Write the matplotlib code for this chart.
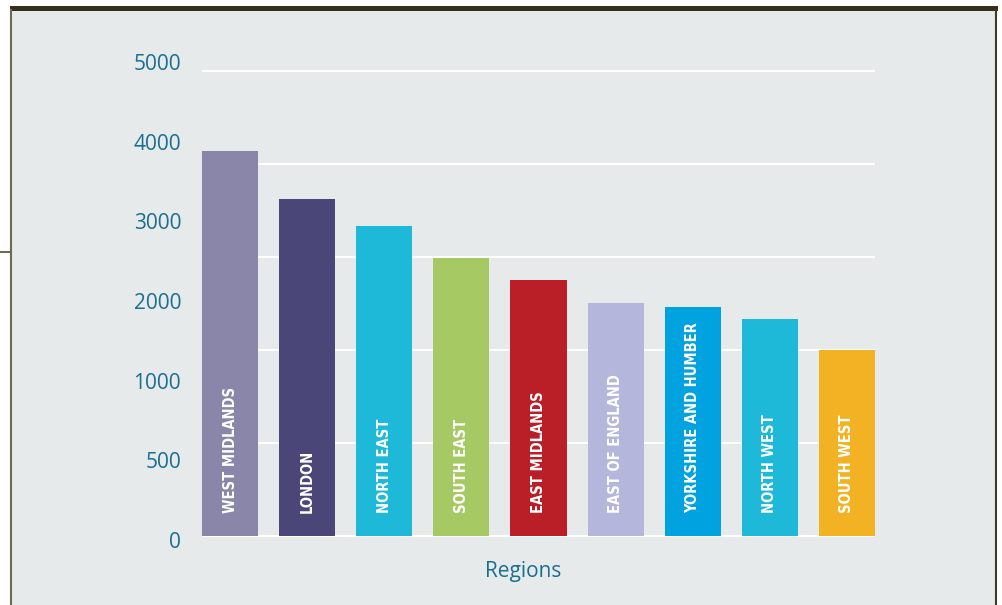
import numpy as np
import matplotlib.pyplot as plt
from matplotlib.patches import Rectangle
from matplotlib.lines import Line2D

# data
regions = ["WEST MIDLANDS", "LONDON", "NORTH EAST", "SOUTH EAST", "EAST MIDLANDS",
           "EAST OF ENGLAND", "YORKSHIRE AND HUMBER", "NORTH WEST", "SOUTH WEST"]
values = [4140, 3620, 3330, 2990, 2750, 2505, 2460, 2330, 2000]
bar_colors = ["#8A86AA", "#4A4778", "#1EB9D9", "#A6C963", "#BA1F28",
              "#B5B6DC", "#00A3DF", "#1EB9D9", "#F3B224"]
tick_labels = ["0", "500", "1000", "2000", "3000", "4000", "5000"]
grid_values = [0, 1000, 2000, 3000, 4000, 5000]

W, H = 1003, 605
fig = plt.figure(figsize=(W / 100, H / 100), dpi=100)
fig.patch.set_facecolor("white")

# panel background and frame
panel = "#E6EAEB"
fig.add_artist(Rectangle((11 / W, 0), (996 - 11) / W, (H - 10) / H,
                         transform=fig.transFigure, facecolor=panel, edgecolor="none", zorder=0))
fig.add_artist(Rectangle((10 / W, (H - 11) / H), (998 - 10) / W, 5 / H,
                         transform=fig.transFigure, facecolor="#352F1C", edgecolor="none", zorder=1))
fig.add_artist(Line2D([11 / W, 11 / W], [0, (H - 10) / H], transform=fig.transFigure,
                      color="#6B6A55", lw=1.5, zorder=1))
fig.add_artist(Line2D([996 / W, 996 / W], [0, (H - 10) / H], transform=fig.transFigure,
                      color="#3D3A28", lw=1.5, zorder=1))
fig.add_artist(Line2D([0, 11 / W], [(H - 252) / H] * 2, transform=fig.transFigure,
                      color="#6B6A55", lw=1.5, zorder=1))

# axes: 0 at y=536 px, 5000 at y=71 px
ppu = (536 - 71) / 5000
ymin, ymax = -60, 5120
ax_bottom = (H - (536 + (-ymin) * ppu)) / H
ax_top = (H - (71 - (ymax - 5000) * ppu)) / H
ax = fig.add_axes([202 / W, ax_bottom, (875 - 202) / W, ax_top - ax_bottom])
ax.set_facecolor("none")

x = np.arange(len(regions))
ax.bar(x, values, width=0.727, color=bar_colors, zorder=3)
ax.set_xlim(-0.3635, len(regions) - 1 + 0.3635)
ax.set_ylim(ymin, ymax)

# region names written up the bars
for xi, name in zip(x, regions):
    ax.text(xi, 250, name, rotation=90, ha="center", va="bottom", color="white",
            fontsize=10.5, fontweight="bold", fontstretch="condensed",
            family=["DejaVu Sans"], zorder=4)

# gridlines (white) and tick labels (evenly spaced as in the original)
for g in grid_values:
    ax.axhline(g, color="white", lw=1.5, zorder=1)
label_pos = np.linspace(-43, 5097, len(tick_labels))
ax.set_yticks(label_pos, tick_labels)
ax.set_xticks([])
ax.tick_params(axis="y", length=0, pad=15, labelsize=15, labelcolor="#1A6E8E")
for lab in ax.get_yticklabels():
    lab.set_family(["Open Sans", "DejaVu Sans"])
for s in ax.spines.values():
    s.set_visible(False)

fig.text(523 / W, (H - 572) / H, "Regions", ha="center", va="center",
         fontsize=15, color="#1A6E8E", family=["Open Sans", "DejaVu Sans"])

fig.savefig("out.png", dpi=100, facecolor=fig.get_facecolor())
